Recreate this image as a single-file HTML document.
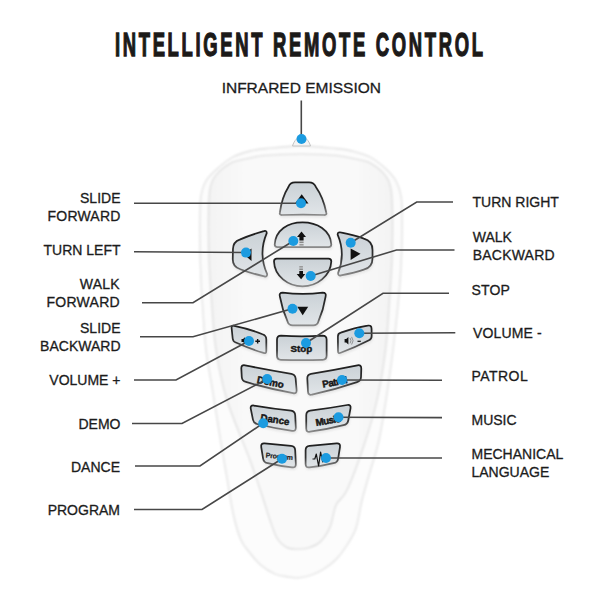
<!DOCTYPE html>
<html><head><meta charset="utf-8">
<style>
html,body{margin:0;padding:0;background:#fff;}
body{width:600px;height:600px;overflow:hidden;position:relative;}
svg{position:absolute;left:0;top:0;}
.t{font-family:"Liberation Sans",sans-serif;font-size:14px;fill:#1c1c1c;stroke:#1c1c1c;stroke-width:0.3;}
.bt{font-family:"Liberation Sans",sans-serif;font-weight:bold;fill:#1a1a1a;}
</style></head><body>
<svg width="600" height="600" viewBox="0 0 600 600">
<defs>
  <linearGradient id="btn" x1="0" y1="0" x2="0" y2="1">
    <stop offset="0" stop-color="#cad1d6"/>
    <stop offset="1" stop-color="#e1e5e8"/>
  </linearGradient>
  <linearGradient id="bst" x1="0" y1="0" x2="0" y2="1">
    <stop offset="0" stop-color="#1e1e1e"/>
    <stop offset="0.6" stop-color="#333"/>
    <stop offset="1" stop-color="#8a8a8a"/>
  </linearGradient>
  <linearGradient id="body" x1="0" y1="0" x2="1" y2="0">
    <stop offset="0" stop-color="#f3f3f3"/>
    <stop offset="0.2" stop-color="#f9f9f9"/>
    <stop offset="0.8" stop-color="#f9f9f9"/>
    <stop offset="1" stop-color="#f3f3f3"/>
  </linearGradient>
  <filter id="sh" x="-20%" y="-20%" width="140%" height="140%">
    <feColorMatrix type="matrix" values="0 0 0 0 0.55  0 0 0 0 0.55  0 0 0 0 0.55  0 0 0 0.35 0"/>
    <feGaussianBlur stdDeviation="1.2"/>
  </filter>
  <filter id="soft" x="-5%" y="-5%" width="110%" height="110%">
    <feGaussianBlur stdDeviation="0.8"/>
  </filter>
</defs>

<!-- title -->
<text x="301.5" y="56.30" text-anchor="middle" class="bt" font-size="33.5" letter-spacing="4.9" transform="translate(298.8 0) scale(0.55 1) translate(-298.8 0)" stroke="#1f1a17" stroke-width="1.4">INTELLIGENT REMOTE CONTROL</text>

<!-- remote body -->
<path d="M301.0 146.0 C312.7 146.0 327.5 147.7 336.0 148.5 C344.5 149.3 346.3 149.6 352.0 151.0 C357.7 152.4 364.3 154.0 370.0 157.0 C375.7 160.0 381.7 165.0 386.0 169.0 C390.3 173.0 393.5 176.5 396.0 181.0 C398.5 185.5 400.0 190.3 401.0 196.0 C402.0 201.7 401.9 206.8 402.0 215.0 C402.1 223.2 402.1 235.0 401.8 245.0 C401.6 255.0 401.1 265.0 400.5 275.0 C399.9 285.0 399.2 292.5 398.0 305.0 C396.8 317.5 394.8 335.8 393.0 350.0 C391.2 364.2 389.8 375.0 387.5 390.0 C385.2 405.0 382.1 425.8 379.0 440.0 C375.9 454.2 371.8 465.0 369.0 475.0 C366.2 485.0 364.2 491.2 362.0 500.0 C359.8 508.8 358.5 520.5 356.0 528.0 C353.5 535.5 350.2 539.8 347.0 545.0 C343.8 550.2 340.5 554.9 336.5 559.0 C332.5 563.1 327.4 566.8 323.0 569.5 C318.6 572.2 314.2 574.1 310.0 575.5 C305.8 576.9 302.0 577.6 298.0 577.8 C294.0 578.0 289.8 577.1 286.0 576.5 C282.2 575.9 279.2 575.9 275.0 574.0 C270.8 572.1 264.9 568.5 260.7 565.0 C256.5 561.5 253.3 557.2 250.0 553.0 C246.7 548.8 243.8 546.3 241.0 540.0 C238.2 533.7 235.9 525.8 233.5 515.0 C231.1 504.2 228.7 487.5 226.5 475.0 C224.3 462.5 222.8 454.2 220.5 440.0 C218.2 425.8 214.9 405.0 212.5 390.0 C210.1 375.0 207.7 364.2 206.0 350.0 C204.3 335.8 203.4 317.5 202.5 305.0 C201.6 292.5 201.2 285.0 200.8 275.0 C200.4 265.0 200.1 255.0 200.0 245.0 C199.9 235.0 199.8 223.2 200.0 215.0 C200.2 206.8 200.0 201.7 201.0 196.0 C202.0 190.3 203.3 185.5 206.0 181.0 C208.7 176.5 212.5 173.0 217.0 169.0 C221.5 165.0 227.5 160.0 233.0 157.0 C238.5 154.0 244.5 152.4 250.0 151.0 C255.5 149.6 257.5 149.3 266.0 148.5 C274.5 147.7 289.3 146.0 301.0 146.0 Z" fill="#fcfcfc" stroke="#e0e0e0" stroke-width="1.3" filter="url(#soft)"/>
<path d="M301.0 154.0 C312.8 154.0 327.0 154.7 336.0 155.5 C345.0 156.3 349.3 157.8 355.0 159.0 C360.7 160.2 365.0 160.3 370.0 163.0 C375.0 165.7 381.5 170.7 385.0 175.0 C388.5 179.3 389.8 182.3 391.0 189.0 C392.2 195.7 392.3 203.2 392.5 215.0 C392.7 226.8 392.5 245.8 392.0 260.0 C391.5 274.2 390.6 285.0 389.5 300.0 C388.4 315.0 387.6 333.3 385.5 350.0 C383.4 366.7 380.6 384.2 377.0 400.0 C373.4 415.8 369.0 430.0 364.0 445.0 C359.0 460.0 351.7 480.0 347.0 490.0 C342.3 500.0 338.8 498.8 336.0 505.0 C333.2 511.2 332.7 520.8 330.0 527.0 C327.3 533.2 323.7 538.5 320.0 542.0 C316.3 545.5 311.7 546.8 308.0 548.0 C304.3 549.2 301.5 549.1 298.0 549.0 C294.5 548.9 290.5 549.3 287.0 547.5 C283.5 545.7 279.8 542.6 277.0 538.0 C274.2 533.4 272.5 527.2 270.0 520.0 C267.5 512.8 265.3 505.0 262.0 495.0 C258.7 485.0 255.8 475.8 250.0 460.0 C244.2 444.2 232.7 418.3 227.0 400.0 C221.3 381.7 218.6 366.7 216.0 350.0 C213.4 333.3 212.7 315.0 211.5 300.0 C210.3 285.0 209.5 274.2 209.0 260.0 C208.5 245.8 208.3 226.8 208.5 215.0 C208.7 203.2 208.8 195.7 210.0 189.0 C211.2 182.3 212.5 179.3 216.0 175.0 C219.5 170.7 226.0 165.7 231.0 163.0 C236.0 160.3 240.3 160.2 246.0 159.0 C251.7 157.8 255.8 156.3 265.0 155.5 C274.2 154.7 289.2 154.0 301.0 154.0 Z" fill="url(#body)" stroke="#d8d8d8" stroke-width="1.1" filter="url(#soft)"/>
<path d="M292.5 146 C294 140.5 298 136.5 301.5 136.5 C305 136.5 309 140.5 310.5 146 Z" fill="#f4f4f4" stroke="#bdbdbd" stroke-width="0.9"/>

<!-- buttons -->
<use href="#btns" transform="translate(0.5 1.8)" filter="url(#sh)"/>
<g id="btns" stroke="url(#bst)" stroke-width="1.75" fill="url(#btn)" stroke-linejoin="round">
  <path d="M295.00 182.30 L309.00 182.30 Q314.00 182.30 315.88 186.93 Q323.15 197.15 326.17 212.22 Q327.30 215.00 324.30 215.00 Q303.15 214.00 282.00 215.00 Q279.00 215.00 279.96 212.16 Q282.00 197.15 288.41 187.04 Q290.00 182.30 295.00 182.30 Z"/>
  <path d="M274.7 244.5 C275.5 230 288 222.3 302.5 222.3 C317 222.3 330.5 230 331.3 244.5 Q331.3 247 328.5 247 L277.5 247 Q274.7 247 274.7 244.5 Z"/>
  <path d="M276.8 258.7 L328.5 258.7 Q331.3 258.7 331.3 261.5 C330.5 276 317 286.3 302.5 286.3 C288 286.3 274.5 276 274 261.5 Q274 258.7 276.8 258.7 Z"/>
  <path d="M282.70 292.70 Q302.70 295.20 322.70 292.70 Q326.70 292.70 325.59 296.54 Q323.50 309.50 318.41 321.46 Q317.30 325.30 313.30 325.30 L292.70 325.30 Q288.70 325.30 287.53 321.48 Q282.20 309.50 279.87 296.52 Q278.70 292.70 282.70 292.70 Z"/>
  <path d="M239.70 239.66 Q249.90 235.05 263.87 231.10 Q266.70 230.10 266.73 233.10 Q257.95 253.65 267.17 274.20 Q267.20 277.20 264.32 276.35 Q249.90 273.10 240.27 269.26 Q232.60 267.00 232.76 259.00 L232.96 249.00 Q233.10 242.00 239.70 239.66 Z"/>
  <path d="M340.50 232.47 Q355.05 235.35 363.80 238.68 Q372.50 241.00 372.50 250.00 L372.50 258.50 Q372.50 267.50 363.77 269.68 Q355.30 272.80 341.01 275.37 Q338.10 276.10 338.07 273.10 Q345.85 253.90 337.63 234.70 Q337.60 231.70 340.50 232.47 Z"/>
  <path d="M234.18 325.85 Q248.80 328.70 262.47 334.26 Q266.30 335.40 266.30 339.40 L266.30 351.00 Q266.30 354.00 263.49 352.95 Q249.65 348.75 235.81 342.55 Q233.00 341.50 232.69 338.52 L231.61 327.98 Q231.30 325.00 234.18 325.85 Z"/>
  <path d="M281.00 335.60 Q301.80 337.10 322.60 335.60 Q326.60 335.60 326.60 339.60 L326.60 355.80 Q326.60 359.80 322.60 359.80 Q301.80 360.30 281.00 359.80 Q277.00 359.80 277.00 355.80 L277.00 339.60 Q277.00 335.60 281.00 335.60 Z"/>
  <path d="M340.80 332.65 Q354.70 327.55 367.63 325.70 Q371.50 324.70 371.56 328.70 L371.66 336.00 Q371.70 339.00 368.96 340.22 Q354.85 347.50 340.74 352.78 Q338.00 354.00 337.99 351.00 L337.91 336.40 Q337.90 333.40 340.80 332.65 Z"/>
  <path d="M245.03 365.32 Q268.20 370.05 291.37 373.78 Q295.30 374.50 295.63 378.49 L296.57 390.01 Q296.90 394.00 293.01 393.08 Q269.45 389.00 245.89 381.92 Q242.00 381.00 241.78 377.01 L241.32 368.59 Q241.10 364.60 245.03 365.32 Z"/>
  <path d="M311.04 373.78 Q334.25 370.05 357.46 365.32 Q361.40 364.60 361.28 368.60 L361.02 377.00 Q360.90 381.00 357.05 382.07 Q334.55 389.80 312.05 394.53 Q308.20 395.60 307.99 391.61 L307.31 378.49 Q307.10 374.50 311.04 373.78 Z"/>
  <path d="M253.96 405.55 Q272.50 408.62 291.04 410.70 Q295.00 411.25 295.20 415.25 L295.80 427.50 Q296.00 431.50 292.07 430.76 Q274.88 428.50 257.68 424.24 Q253.75 423.50 252.96 419.58 L250.79 408.92 Q250.00 405.00 253.96 405.55 Z"/>
  <path d="M310.20 410.65 Q328.75 408.32 347.30 405.00 Q351.25 404.40 350.51 408.33 L348.24 420.47 Q347.50 424.40 343.57 425.17 Q326.88 429.45 310.18 431.73 Q306.25 432.50 306.25 428.50 L306.25 415.25 Q306.25 411.25 310.20 410.65 Z"/>
  <path d="M264.58 443.46 L291.02 445.89 Q295.00 446.25 295.18 450.25 L295.82 464.00 Q296.00 468.00 292.06 467.33 Q279.88 466.25 267.69 463.17 Q263.75 462.50 263.11 458.55 L261.24 447.05 Q260.60 443.10 264.58 443.46 Z"/>
  <path d="M309.58 445.89 L336.62 443.46 Q340.60 443.10 339.97 447.05 L338.13 458.55 Q337.50 462.50 333.56 463.18 Q321.55 466.25 309.54 467.32 Q305.60 468.00 305.60 464.00 L305.60 450.25 Q305.60 446.25 309.58 445.89 Z"/>
</g>


<!-- icons -->
<g fill="#111">
  <path d="M301.7 194.3 L308.5 203.5 L295 203.5 Z"/>
  <path d="M301.5 231.5 L306 237 L303.6 237 L303.6 240.5 L299.4 240.5 L299.4 237 L297 237 Z"/>
  <rect x="299.4" y="241.5" width="4.2" height="1.6" fill="#8a8a8a"/>
  <rect x="299.4" y="244" width="4.2" height="1.6" fill="#9a9a9a"/>
  <rect x="299.3" y="266" width="3.6" height="1.6" fill="#9a9a9a"/>
  <rect x="299.3" y="268.5" width="3.6" height="1.6" fill="#8a8a8a"/>
  <path d="M301.1 279.3 L305.3 274 L303 274 L303 271 L299.3 271 L299.3 274 L296.7 274 Z"/>
  <path d="M297.3 306.7 L308.2 306.7 L302.7 315.3 Z"/>
  <path d="M251.5 248.5 L251.5 261 L244 254.5 Z"/>
  <path d="M350.6 248.5 L360.5 253.8 L350.6 260 Z"/>
  <text x="301.3" y="351.5" text-anchor="middle" class="bt" font-size="9.8" stroke="#111" stroke-width="0.45">Stop</text>
  <text x="270.5" y="385.5" text-anchor="middle" class="bt" font-size="9.8" stroke="#111" stroke-width="0.45" transform="rotate(11 270.5 382)">Demo</text>
  <text x="334.5" y="385.5" text-anchor="middle" class="bt" font-size="9.8" letter-spacing="-0.5" stroke="#111" stroke-width="0.45" transform="rotate(-11 334.5 382)">Patrol</text>
  <text x="274.9" y="423" text-anchor="middle" class="bt" font-size="9.8" stroke="#111" stroke-width="0.45" transform="rotate(9 274.9 420)">Dance</text>
  <text x="328" y="424" text-anchor="middle" class="bt" font-size="9.8" letter-spacing="-0.6" stroke="#111" stroke-width="0.45" transform="rotate(-10 328 421)">Music</text>
  <text x="279.3" y="458.8" text-anchor="middle" class="bt" font-size="7" letter-spacing="-0.25" transform="rotate(5 279.3 456)" stroke="#111" stroke-width="0.15">Program</text>
  <path d="M255.3 341.2 L260 341.2 M257.65 338.9 L257.65 343.6" stroke="#111" stroke-width="1.4" fill="none"/>
  <path d="M241.5 339 L243 339 L245 337.3 L245 343.5 L243 342 L241.5 342 Z"/>
  <path d="M344.6 339 L346.2 339 L348.4 336.9 L348.4 344.6 L346.2 342.5 L344.6 342.5 Z"/>
  <path d="M350 338 Q352 340.7 350 343.4 M351.6 336.9 Q354.6 340.7 351.6 344.5" stroke="#888" stroke-width="0.9" fill="none"/>
  <path d="M357.5 341.3 L360.8 341.3" stroke="#111" stroke-width="1.2" fill="none"/>
</g>
<path d="M312.5 459 L314.8 459 L316.3 454 L318.6 466 L320.6 452 L322.7 462 L324 458 L327 458" fill="none" stroke="#111" stroke-width="1.2" stroke-linejoin="round"/>

<!-- leader lines -->
<g stroke="#474747" stroke-width="1.6" fill="none">
  <path d="M301.3 100.5 L301.3 139"/>
  <path d="M134 203.3 L301 203.3"/>
  <path d="M134 251.8 L246 252.5"/>
  <path d="M142 302.8 L193 302.8 L293.3 241"/>
  <path d="M140 336.8 L193 336.8 L292 308.8"/>
  <path d="M134 380 L176 380 L248.8 341"/>
  <path d="M132 423.5 L182 423.5 L267.2 379"/>
  <path d="M135 466 L200 466 L263.2 423.2"/>
  <path d="M134 509.5 L202 509.5 L282 458.8"/>
  <path d="M453 202 L416.7 202 L350.7 242.7"/>
  <path d="M454.5 250 L396.5 250 L310.7 276"/>
  <path d="M449 293.3 L383 293.3 L306 343"/>
  <path d="M455.3 332.7 L359.3 333.3"/>
  <path d="M442 380.3 L342 380"/>
  <path d="M442 417.6 L338.5 417.3"/>
  <path d="M442 458 L326 458"/>
</g>

<!-- dots -->
<g fill="#1b9be0">
  <circle cx="301.5" cy="139" r="5"/>
  <circle cx="301" cy="203.3" r="5"/>
  <circle cx="246" cy="252.6" r="5"/>
  <circle cx="293.3" cy="241" r="5"/>
  <circle cx="292.5" cy="308.8" r="5"/>
  <circle cx="249" cy="341" r="5"/>
  <circle cx="267.2" cy="379" r="5"/>
  <circle cx="263.2" cy="423.2" r="5"/>
  <circle cx="282" cy="458.8" r="5"/>
  <circle cx="350.7" cy="242.7" r="5"/>
  <circle cx="310.7" cy="276" r="5"/>
  <circle cx="306" cy="343" r="5"/>
  <circle cx="359.3" cy="333.3" r="5"/>
  <circle cx="342" cy="380" r="5"/>
  <circle cx="338.5" cy="417.3" r="5"/>
  <circle cx="326" cy="458" r="5"/>
</g>

<!-- labels -->
<g class="t">
  <text x="301.3" y="93.4" text-anchor="middle" font-size="15.5">INFRARED EMISSION</text>
  <g text-anchor="end">
    <text x="120.5" y="203">SLIDE</text>
    <text x="120.5" y="220.6" letter-spacing="0.2">FORWARD</text>
    <text x="120.5" y="255.2">TURN LEFT</text>
    <text x="120" y="289.3" letter-spacing="0.3">WALK</text>
    <text x="120" y="306.8" letter-spacing="0.28">FORWARD</text>
    <text x="120.5" y="333">SLIDE</text>
    <text x="120.5" y="351">BACKWARD</text>
    <text x="120.5" y="385.2">VOLUME +</text>
    <text x="120.5" y="428.6">DEMO</text>
    <text x="120" y="471.6">DANCE</text>
    <text x="120" y="515">PROGRAM</text>
  </g>
  <text x="472.5" y="207.4">TURN RIGHT</text>
  <text x="472.8" y="241.8">WALK</text>
  <text x="472.8" y="259.8" letter-spacing="0.2">BACKWARD</text>
  <text x="471.5" y="294.7" letter-spacing="0.12">STOP</text>
  <text x="473" y="337.5" letter-spacing="0.14">VOLUME -</text>
  <text x="471.5" y="381.3" letter-spacing="0.45">PATROL</text>
  <text x="471.5" y="424.8">MUSIC</text>
  <text x="471.5" y="459.3">MECHANICAL</text>
  <text x="471.5" y="476.8">LANGUAGE</text>
</g>
</svg>
</body></html>
